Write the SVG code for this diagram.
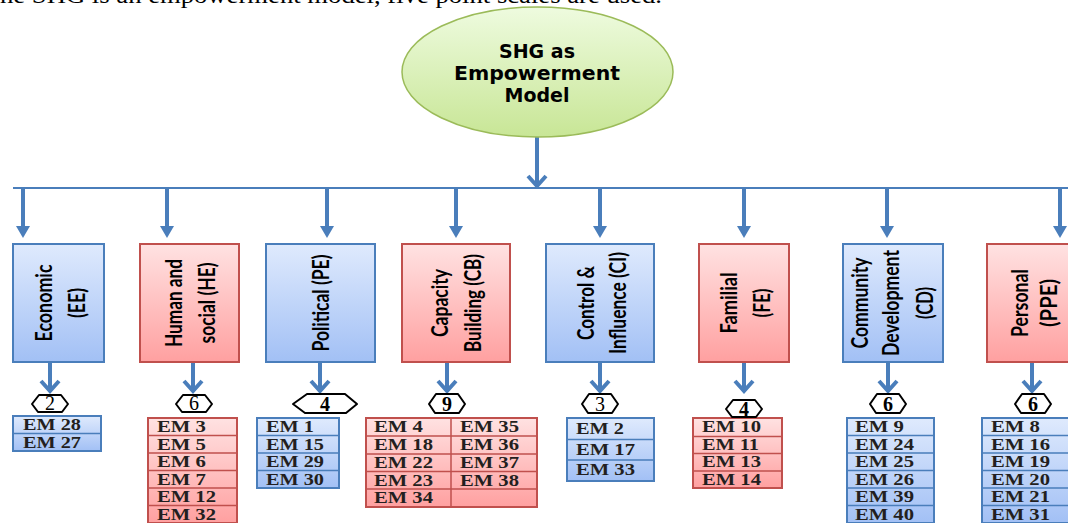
<svg xmlns="http://www.w3.org/2000/svg" width="1068" height="523" viewBox="0 0 1068 523">
<defs>
<linearGradient id="gBlue" x1="0" y1="0" x2="0" y2="1"><stop offset="0" stop-color="#dfeafd"/><stop offset="1" stop-color="#a2c0f5"/></linearGradient>
<linearGradient id="gRed" x1="0" y1="0" x2="0" y2="1"><stop offset="0" stop-color="#ffe2e2"/><stop offset="1" stop-color="#ffa0a0"/></linearGradient>
<linearGradient id="gGreen" x1="0" y1="0" x2="0" y2="1"><stop offset="0" stop-color="#eefbdf"/><stop offset="1" stop-color="#c8e696"/></linearGradient>
<marker id="tri" markerUnits="userSpaceOnUse" viewBox="0 0 12 14" markerWidth="12" markerHeight="14" refX="8" refY="7" orient="auto"><path d="M0,0 L12,7 L0,14 z" fill="#4a7ebb"/></marker>
<style>
.blue{fill:url(#gBlue);stroke:#4a7ebb;stroke-width:2}
.red{fill:url(#gRed);stroke:#c0504d;stroke-width:2}
.bl{stroke:#4a7ebb;stroke-width:1.5}
.rl{stroke:#c0504d;stroke-width:1.5}
.lbl{font-family:Lato,"Open Sans",sans-serif;font-weight:bold;font-size:23px;fill:#000;text-anchor:middle}
.em{font-family:"Liberation Serif",serif;font-weight:bold;font-size:16px;fill:#231f20}
.hep{fill:#fff;stroke:#000;stroke-width:2;stroke-linejoin:round}
.num{font-family:"Liberation Serif",serif;font-size:20px;fill:#000;text-anchor:middle}
.shaft{stroke:#4a7ebb;stroke-width:4;fill:none}
.vee{stroke:#4a7ebb;stroke-width:4;fill:none;stroke-linejoin:miter}
.hline{stroke:#4a7ebb;stroke-width:2;fill:none}
</style>
</defs>
<rect width="1068" height="523" fill="#fff"/>
<text x="0" y="3" font-family="Liberation Serif,serif" font-size="24" fill="#000" textLength="662" lengthAdjust="spacingAndGlyphs">he SHG is an empowerment model, five point scales are used.</text>

<g id="connectors">
<path class="shaft" d="M537,137 V186"/>
<path class="vee" d="M528,176 L537,186 L546,176"/>
<path class="hline" d="M13,188 H1068"/>
<path class="shaft" marker-end="url(#tri)" d="M23,188 V234"/>
<path class="shaft" marker-end="url(#tri)" d="M167,188 V234"/>
<path class="shaft" marker-end="url(#tri)" d="M327,188 V234"/>
<path class="shaft" marker-end="url(#tri)" d="M456,188 V234"/>
<path class="shaft" marker-end="url(#tri)" d="M600,188 V234"/>
<path class="shaft" marker-end="url(#tri)" d="M744,188 V234"/>
<path class="shaft" marker-end="url(#tri)" d="M887,188 V234"/>
<path class="shaft" marker-end="url(#tri)" d="M1060,188 V234"/>
<path class="shaft" d="M50,362 V391 M193,362 V391 M320,362 V391 M447,362 V391 M600,362 V391 M744,362 V391 M888,362 V391 M1032,362 V391"/>
<path class="vee" d="M41,381 L50,391 L59,381 M184,381 L193,391 L202,381 M311,381 L320,391 L329,381 M438,381 L447,391 L456,381 M591,381 L600,391 L609,381 M735,381 L744,391 L753,381 M879,381 L888,391 L897,381 M1023,381 L1032,391 L1041,381"/>
</g>

<g id="root">
<ellipse cx="537.5" cy="72" rx="135.5" ry="65" fill="url(#gGreen)" stroke="#9bbb59" stroke-width="1.5"/>
<g font-family="DejaVu Sans,sans-serif" font-weight="bold" font-size="19" text-anchor="middle" fill="#000">
<text x="537" y="58">SHG as</text>
<text x="537" y="80" textLength="166" lengthAdjust="spacingAndGlyphs">Empowerment</text>
<text x="537" y="102">Model</text>
</g>
</g>

<g id="economic">
<rect class="blue" x="13" y="244" width="91" height="118"/>
<text class="lbl" transform="translate(52,303) rotate(-90)" textLength="77" lengthAdjust="spacingAndGlyphs">Economic</text>
<text class="lbl" transform="translate(85,303) rotate(-90)" textLength="30" lengthAdjust="spacingAndGlyphs">(EE)</text>
<rect class="blue" x="13" y="416" width="88" height="35"/>
<path class="bl" d="M13,433.5 H101"/>
<text class="em" x="23" y="430" textLength="58" lengthAdjust="spacingAndGlyphs">EM 28</text>
<text class="em" x="23" y="447.5" textLength="58" lengthAdjust="spacingAndGlyphs">EM 27</text>
<polygon class="hep" points="39,395 61,395 68,404 62,412 38,412 32,404"/>
<text class="num" x="50" y="410">2</text>
</g>

<g id="human">
<rect class="red" x="140" y="244" width="99" height="118"/>
<text class="lbl" transform="translate(182,303) rotate(-90)" textLength="88" lengthAdjust="spacingAndGlyphs">Human and</text>
<text class="lbl" transform="translate(215,303) rotate(-90)" textLength="81" lengthAdjust="spacingAndGlyphs">social (HE)</text>
<rect class="red" x="148" y="418" width="89" height="105"/>
<path class="rl" d="M148,435.5 H237 M148,453 H237 M148,470.5 H237 M148,488 H237 M148,505.5 H237"/>
<text class="em" x="157" y="432" textLength="49" lengthAdjust="spacingAndGlyphs">EM 3</text>
<text class="em" x="157" y="449.5" textLength="49" lengthAdjust="spacingAndGlyphs">EM 5</text>
<text class="em" x="157" y="467" textLength="49" lengthAdjust="spacingAndGlyphs">EM 6</text>
<text class="em" x="157" y="484.5" textLength="49" lengthAdjust="spacingAndGlyphs">EM 7</text>
<text class="em" x="157" y="502" textLength="59" lengthAdjust="spacingAndGlyphs">EM 12</text>
<text class="em" x="157" y="519.5" textLength="59" lengthAdjust="spacingAndGlyphs">EM 32</text>
<polygon class="hep" points="183,395 205,395 212,404 206,412 182,412 176,404"/>
<text class="num" x="194" y="410">6</text>
</g>

<g id="political">
<rect class="blue" x="266" y="244" width="109" height="118"/>
<text class="lbl" transform="translate(329,303) rotate(-90)" textLength="97" lengthAdjust="spacingAndGlyphs">Political (PE)</text>
<rect class="blue" x="257" y="418" width="82" height="70"/>
<path class="bl" d="M257,435.5 H339 M257,453 H339 M257,470.5 H339"/>
<text class="em" x="266" y="432" textLength="48" lengthAdjust="spacingAndGlyphs">EM 1</text>
<text class="em" x="266" y="449.5" textLength="58" lengthAdjust="spacingAndGlyphs">EM 15</text>
<text class="em" x="266" y="467" textLength="58" lengthAdjust="spacingAndGlyphs">EM 29</text>
<text class="em" x="266" y="484.5" textLength="58" lengthAdjust="spacingAndGlyphs">EM 30</text>
<polygon class="hep" points="307,394 345,394 357,404 346,413 305,413 293,404"/>
<text class="num" x="325" y="411" font-weight="bold">4</text>
</g>

<g id="capacity">
<rect class="red" x="402" y="244" width="108" height="118"/>
<text class="lbl" transform="translate(448,303) rotate(-90)" textLength="68" lengthAdjust="spacingAndGlyphs">Capacity</text>
<text class="lbl" transform="translate(481,303) rotate(-90)" textLength="98" lengthAdjust="spacingAndGlyphs">Building (CB)</text>
<rect class="red" x="366" y="418" width="171" height="89"/>
<path class="rl" d="M366,436 H537 M366,454 H537 M366,471.5 H537 M366,489 H537 M451,418 V507"/>
<text class="em" x="374" y="432" textLength="49" lengthAdjust="spacingAndGlyphs">EM 4</text>
<text class="em" x="374" y="450" textLength="59" lengthAdjust="spacingAndGlyphs">EM 18</text>
<text class="em" x="374" y="468" textLength="59" lengthAdjust="spacingAndGlyphs">EM 22</text>
<text class="em" x="374" y="485.5" textLength="59" lengthAdjust="spacingAndGlyphs">EM 23</text>
<text class="em" x="374" y="503" textLength="59" lengthAdjust="spacingAndGlyphs">EM 34</text>
<text class="em" x="460" y="432" textLength="59" lengthAdjust="spacingAndGlyphs">EM 35</text>
<text class="em" x="460" y="450" textLength="59" lengthAdjust="spacingAndGlyphs">EM 36</text>
<text class="em" x="460" y="468" textLength="59" lengthAdjust="spacingAndGlyphs">EM 37</text>
<text class="em" x="460" y="485.5" textLength="59" lengthAdjust="spacingAndGlyphs">EM 38</text>
<polygon class="hep" points="436,394 458,394 465,404 459,413 435,413 429,404"/>
<text class="num" x="447" y="411" font-weight="bold">9</text>
</g>

<g id="control">
<rect class="blue" x="546" y="244" width="108" height="118"/>
<text class="lbl" transform="translate(594,303) rotate(-90)" textLength="74" lengthAdjust="spacingAndGlyphs">Control &amp;</text>
<text class="lbl" transform="translate(626,303) rotate(-90)" textLength="102" lengthAdjust="spacingAndGlyphs">Influence (CI)</text>
<rect class="blue" x="567" y="418" width="87" height="63"/>
<path class="bl" d="M567,439.5 H654 M567,460 H654" stroke-width="2.5"/>
<text class="em" x="576" y="433.5" textLength="48" lengthAdjust="spacingAndGlyphs">EM 2</text>
<text class="em" x="576" y="454.5" textLength="59" lengthAdjust="spacingAndGlyphs">EM 17</text>
<text class="em" x="576" y="475" textLength="59" lengthAdjust="spacingAndGlyphs">EM 33</text>
<polygon class="hep" points="589,394 611,394 618,404 612,413 588,413 582,404"/>
<text class="num" x="600" y="411">3</text>
</g>

<g id="familial">
<rect class="red" x="699" y="244" width="90" height="118"/>
<text class="lbl" transform="translate(737,303) rotate(-90)" textLength="61" lengthAdjust="spacingAndGlyphs">Familial</text>
<text class="lbl" transform="translate(770,303) rotate(-90)" textLength="29" lengthAdjust="spacingAndGlyphs">(FE)</text>
<rect class="red" x="693" y="418" width="89" height="70"/>
<path class="rl" d="M693,436.5 H782 M693,453.5 H782 M693,471 H782"/>
<text class="em" x="702" y="432" textLength="59" lengthAdjust="spacingAndGlyphs">EM 10</text>
<text class="em" x="702" y="449.5" textLength="57" lengthAdjust="spacingAndGlyphs">EM 11</text>
<text class="em" x="702" y="467" textLength="59" lengthAdjust="spacingAndGlyphs">EM 13</text>
<text class="em" x="702" y="484.5" textLength="59" lengthAdjust="spacingAndGlyphs">EM 14</text>
<polygon class="hep" points="733,400 755,400 762,409 756,417 732,417 726,409"/>
<text class="num" x="744" y="416" font-weight="bold">4</text>
</g>

<g id="community">
<rect class="blue" x="843" y="244" width="100" height="118"/>
<text class="lbl" transform="translate(868,303) rotate(-90)" textLength="91" lengthAdjust="spacingAndGlyphs">Community</text>
<text class="lbl" transform="translate(899,303) rotate(-90)" textLength="106" lengthAdjust="spacingAndGlyphs">Development</text>
<text class="lbl" transform="translate(933,303) rotate(-90)" textLength="32" lengthAdjust="spacingAndGlyphs">(CD)</text>
<rect class="blue" x="847" y="418" width="87" height="105"/>
<path class="bl" d="M847,435.5 H934 M847,453 H934 M847,470.5 H934 M847,488 H934 M847,505.5 H934"/>
<text class="em" x="855" y="432" textLength="49" lengthAdjust="spacingAndGlyphs">EM 9</text>
<text class="em" x="855" y="449.5" textLength="59" lengthAdjust="spacingAndGlyphs">EM 24</text>
<text class="em" x="855" y="467" textLength="59" lengthAdjust="spacingAndGlyphs">EM 25</text>
<text class="em" x="855" y="484.5" textLength="59" lengthAdjust="spacingAndGlyphs">EM 26</text>
<text class="em" x="855" y="502" textLength="59" lengthAdjust="spacingAndGlyphs">EM 39</text>
<text class="em" x="855" y="519.5" textLength="59" lengthAdjust="spacingAndGlyphs">EM 40</text>
<polygon class="hep" points="877,394 899,394 906,404 900,413 876,413 870,404"/>
<text class="num" x="888" y="411" font-weight="bold">6</text>
</g>

<g id="personal">
<rect class="red" x="987" y="244" width="100" height="118"/>
<text class="lbl" transform="translate(1028,303) rotate(-90)" textLength="68" lengthAdjust="spacingAndGlyphs">Personal</text>
<text class="lbl" transform="translate(1057,303) rotate(-90)" textLength="48" lengthAdjust="spacingAndGlyphs">(PPE)</text>
<rect class="blue" x="982" y="418" width="95" height="105"/>
<path class="bl" d="M982,435.5 H1077 M982,453 H1077 M982,470.5 H1077 M982,488 H1077 M982,505.5 H1077"/>
<text class="em" x="991" y="432" textLength="49" lengthAdjust="spacingAndGlyphs">EM 8</text>
<text class="em" x="991" y="449.5" textLength="59" lengthAdjust="spacingAndGlyphs">EM 16</text>
<text class="em" x="991" y="467" textLength="59" lengthAdjust="spacingAndGlyphs">EM 19</text>
<text class="em" x="991" y="484.5" textLength="59" lengthAdjust="spacingAndGlyphs">EM 20</text>
<text class="em" x="991" y="502" textLength="59" lengthAdjust="spacingAndGlyphs">EM 21</text>
<text class="em" x="991" y="519.5" textLength="59" lengthAdjust="spacingAndGlyphs">EM 31</text>
<polygon class="hep" points="1022,394 1044,394 1051,404 1045,413 1021,413 1015,404"/>
<text class="num" x="1033" y="411" font-weight="bold">6</text>
</g>
</svg>
